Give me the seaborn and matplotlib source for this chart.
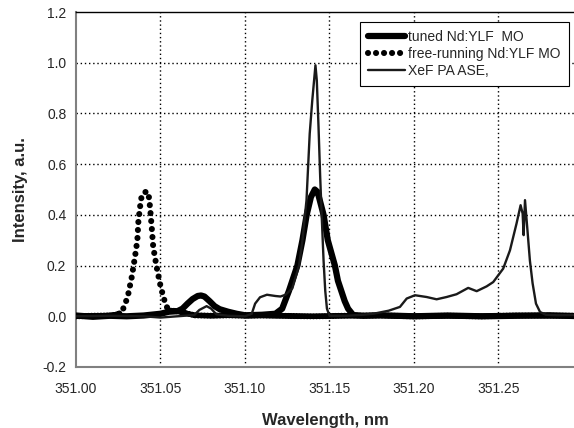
import numpy as np
import pandas as pd
import matplotlib
matplotlib.use('Agg')
import matplotlib.pyplot as plt
import seaborn as sns
from matplotlib import ticker

# tuned Nd:YLF MO (thick line)
tuned_x = [351.000, 351.010, 351.020, 351.030, 351.040, 351.050, 351.055, 351.060,
           351.063, 351.066, 351.069, 351.072, 351.074, 351.076, 351.079, 351.082,
           351.085, 351.090, 351.095, 351.100, 351.110, 351.118, 351.122, 351.126,
           351.129, 351.131, 351.134, 351.1365, 351.139, 351.1413, 351.143, 351.1465,
           351.149, 351.1532, 351.155, 351.157, 351.159, 351.161, 351.164, 351.170,
           351.180, 351.200, 351.220, 351.240, 351.260, 351.280, 351.295]
tuned_y = [0.003, -0.002, 0.002, 0.000, 0.003, 0.010, 0.018, 0.020,
           0.030, 0.050, 0.068, 0.080, 0.082, 0.078, 0.060, 0.040,
           0.028, 0.018, 0.010, 0.004, 0.006, 0.010, 0.030, 0.100,
           0.160, 0.200, 0.300, 0.400, 0.470, 0.500, 0.490, 0.400,
           0.300, 0.200, 0.140, 0.100, 0.060, 0.030, 0.005, 0.002,
           0.004, 0.000, 0.003, 0.000, 0.002, 0.004, 0.001]

# free-running Nd:YLF MO (dotted)
free_x = [351.000, 351.010, 351.020, 351.025, 351.027, 351.029, 351.031, 351.033,
          351.0349, 351.0363, 351.0369, 351.0379, 351.0389, 351.0408, 351.0428, 351.0438,
          351.0448, 351.0457, 351.0477, 351.0497, 351.0517, 351.0536, 351.056, 351.060,
          351.064, 351.070, 351.080, 351.090, 351.100, 351.110, 351.118, 351.140,
          351.160, 351.180, 351.200, 351.220, 351.240, 351.260, 351.280, 351.295]
free_y = [0.000, 0.002, 0.003, 0.008, 0.017, 0.045, 0.090, 0.155,
          0.234, 0.300, 0.372, 0.431, 0.477, 0.490, 0.490, 0.431,
          0.352, 0.273, 0.195, 0.129, 0.076, 0.037, 0.022, 0.020,
          0.014, 0.004, 0.002, 0.004, 0.002, 0.003, 0.002, 0.000,
          0.002, 0.003, 0.000, 0.002, 0.000, 0.003, 0.002, 0.002]

# XeF PA ASE (thin line)
ase_x = [351.000, 351.020, 351.040, 351.050, 351.060, 351.070, 351.073, 351.0773,
         351.080, 351.083, 351.090, 351.100, 351.104, 351.106, 351.1089, 351.113, 351.118,
         351.121, 351.124, 351.128, 351.132, 351.134, 351.1364, 351.1383, 351.1398, 351.1417,
         351.1425, 351.1435, 351.1445, 351.1455, 351.1465, 351.1475, 351.1485, 351.150,
         351.160, 351.170, 351.176, 351.185, 351.1917, 351.1957, 351.2006, 351.2075,
         351.2134, 351.2193, 351.2252, 351.2321, 351.2371, 351.243, 351.2469, 351.2528,
         351.2568, 351.2607, 351.2631, 351.2643, 351.2649, 351.2657, 351.267, 351.2686,
         351.2702, 351.2722, 351.2746, 351.278, 351.285, 351.295]
ase_y = [0.000, 0.002, 0.000, -0.005, 0.000, 0.005, 0.025, 0.040,
         0.030, 0.008, 0.002, 0.000, 0.010, 0.050, 0.075, 0.085, 0.080,
         0.078, 0.085, 0.110, 0.200, 0.300, 0.458, 0.720, 0.850, 0.990,
         0.930, 0.750, 0.550, 0.380, 0.220, 0.100, 0.030, 0.002,
         0.002, 0.006, 0.010, 0.022, 0.037, 0.070, 0.083, 0.076,
         0.067, 0.076, 0.087, 0.112, 0.099, 0.118, 0.135, 0.188,
         0.260, 0.366, 0.438, 0.405, 0.320, 0.458, 0.352, 0.220,
         0.130, 0.050, 0.017, 0.006, 0.004, 0.005]

x_ticks = [351.00, 351.05, 351.10, 351.15, 351.20, 351.25]
y_ticks = [-0.2, 0.0, 0.2, 0.4, 0.6, 0.8, 1.0, 1.2]

sns.set_style('white')
plt.rcParams['font.family'] = ['Liberation Sans', 'DejaVu Sans']

fig = plt.figure(figsize=(5.74, 4.28), dpi=100)
ax = fig.add_axes([76/574, 61/428, 498/574, 355/428])

tuned = pd.DataFrame({'x': tuned_x, 'y': tuned_y})
free = pd.DataFrame({'x': free_x, 'y': free_y})
ase = pd.DataFrame({'x': ase_x, 'y': ase_y})

# noisy baseline of the free-running trace looks like a solid band of dots
dot_kw = dict(sort=False, estimator=None, color='black', lw=4.4, dash_capstyle='round')
sns.lineplot(data=free[free.x <= 351.027], x='x', y='y', ax=ax, linestyle=(0, (0.01, 0.5)),
             zorder=3, **dot_kw)
sns.lineplot(data=free[free.x >= 351.056], x='x', y='y', ax=ax, linestyle=(0, (0.01, 0.5)),
             zorder=3, **dot_kw)
sns.lineplot(data=free[(free.x >= 351.025) & (free.x <= 351.060)], x='x', y='y', ax=ax,
             linestyle=(0, (0.01, 1.3)), label='free-running Nd:YLF MO', zorder=3, **dot_kw)
sns.lineplot(data=tuned, x='x', y='y', ax=ax, sort=False, estimator=None, color='black',
             lw=4.5, solid_capstyle='round', solid_joinstyle='round',
             label='tuned Nd:YLF  MO', zorder=4)
sns.lineplot(data=ase, x='x', y='y', ax=ax, sort=False, estimator=None, color='#1a1a1a',
             lw=1.7, label='XeF PA ASE,', zorder=5)

ax.set_xlim(351.0, 351.2947)
ax.set_ylim(-0.2, 1.2)
ax.set_xticks(x_ticks)
ax.set_yticks(y_ticks)
ax.xaxis.set_major_formatter(ticker.FormatStrFormatter('%.2f'))
ax.yaxis.set_major_formatter(ticker.FormatStrFormatter('%.1f'))
ax.tick_params(direction='out', length=4, width=1, color='#808080', labelsize=10, pad=3)
ax.tick_params(axis='x', pad=7)

# dotted grid
for gx in x_ticks[1:]:
    ax.axvline(gx, color='black', lw=1, ls=(0, (1, 2)), zorder=1)
for gy in y_ticks[2:-1]:
    ax.axhline(gy, color='black', lw=1, ls=(0, (1, 2)), zorder=1)

ax.spines['right'].set_visible(False)
ax.spines['top'].set_color('black')
ax.spines['top'].set_linewidth(1)
ax.spines['left'].set_color('#808080')
ax.spines['bottom'].set_color('#808080')
ax.spines['left'].set_linewidth(1.5)
ax.spines['bottom'].set_linewidth(1.5)

ax.set_xlabel('Wavelength, nm', fontsize=12, fontweight='bold', labelpad=12)
ax.set_ylabel('Intensity, a.u.', fontsize=12, fontweight='bold', labelpad=10)

h, l = ax.get_legend_handles_labels()
lab = dict(zip(l, h))
names = ['tuned Nd:YLF  MO', 'free-running Nd:YLF MO', 'XeF PA ASE,']
leg = ax.legend([lab[n] for n in names], names, loc='upper right',
                bbox_to_anchor=(0.99, 0.972), borderaxespad=0, fancybox=False,
                edgecolor='black', framealpha=1, fontsize=10, handlelength=2.7,
                handletextpad=0.2, labelspacing=0.2, borderpad=0.6)
leg.get_frame().set_linewidth(0.8)

fig.savefig('out.png', dpi=100)
